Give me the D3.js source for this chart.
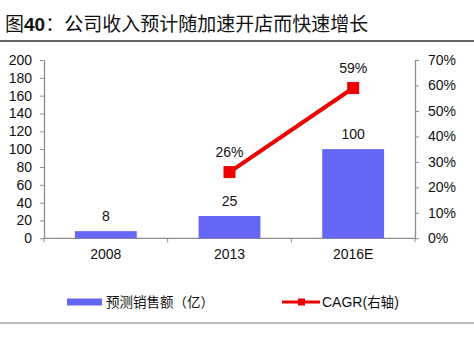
<!DOCTYPE html>
<html><head><meta charset="utf-8">
<script src="https://cdn.jsdelivr.net/npm/d3@7"></script>
<style>body{margin:0;background:#fff;}svg{display:block;}</style>
</head><body>
<script>
const categories = ["2008", "2013", "2016E"];
const salesValues = [8, 25, 100];
const cagrValues = [null, 0.26, 0.59];
const leftTicks = [0, 20, 40, 60, 80, 100, 120, 140, 160, 180, 200];
const rightTicks = [0, 0.1, 0.2, 0.3, 0.4, 0.5, 0.6, 0.7];
const titleText = "公司收入预计随加速开店而快速增长";
const legendBar = "预测销售额（亿）";
const legendLine = "CAGR(右轴)";

const W = 474, H = 357;
const svg = d3.select("body").append("svg").attr("width", W).attr("height", H);
const numFont = "'Liberation Sans', Arial, sans-serif";
const cjkFont = "'Noto Sans CJK SC', sans-serif";
const axisColor = "#8c8c8c";
const barColor = "#6666f6";
const lineColor = "#ee0000";
const fs = 14;

// Title
const t = svg.append("text").attr("x", 5).attr("y", 31).attr("font-size", 19).attr("fill", "#111");
t.append("tspan").attr("font-family", cjkFont).text("图");
t.append("tspan").attr("font-family", numFont).attr("font-weight", "bold").text("40");
t.append("tspan").attr("font-family", cjkFont).text("：");
t.append("tspan").attr("font-family", cjkFont).text(titleText);
svg.append("line").attr("x1", 0).attr("x2", W).attr("y1", 41).attr("y2", 41).attr("stroke", "#333").attr("stroke-width", 1.5);

const pLeft = 44, pRight = 415, pTop = 60, pBottom = 238.3;
const x = d3.scaleBand().domain(categories).range([pLeft, pRight]).paddingInner(0).paddingOuter(0);
const yL = d3.scaleLinear().domain([0, 200]).range([pBottom, pTop]);
const yR = d3.scaleLinear().domain([0, 0.7]).range([pBottom, pTop]);

// Left axis
const gL = svg.append("g").attr("transform", `translate(${pLeft},0)`)
  .call(d3.axisLeft(yL).tickValues(leftTicks).tickSize(4).tickSizeOuter(0).tickPadding(8));
// Right axis
const gR = svg.append("g").attr("transform", `translate(${pRight},0)`)
  .call(d3.axisRight(yR).tickValues(rightTicks).tickFormat(d3.format(".0%")).tickSize(4).tickSizeOuter(0).tickPadding(9));
// Bottom axis
const gB = svg.append("g").attr("transform", `translate(0,${pBottom})`)
  .call(d3.axisBottom(x).tickSize(0).tickPadding(11));
// boundary ticks on x axis
const bounds = categories.map(c => x(c)).concat([x(categories[categories.length-1]) + x.bandwidth()]);
svg.append("g").selectAll("line").data(bounds).join("line")
  .attr("x1", d => d).attr("x2", d => d).attr("y1", pBottom).attr("y2", pBottom + 4)
  .attr("stroke", axisColor);

[gL, gR, gB].forEach(g => {
  g.selectAll("path.domain").attr("stroke", axisColor).attr("stroke-width", 1.3);
  g.selectAll(".tick line").attr("stroke", axisColor);
  g.selectAll(".tick text").attr("font-family", numFont).attr("font-size", fs).attr("fill", "#111");
});
gB.select("path.domain").remove();
svg.append("line").attr("x1", pLeft).attr("x2", pRight).attr("y1", pBottom).attr("y2", pBottom).attr("stroke", axisColor).attr("stroke-width", 1.3);

// Bars
const bw = x.bandwidth() * 0.5;
svg.append("g").selectAll("rect").data(categories).join("rect")
  .attr("x", c => x(c) + (x.bandwidth() - bw) / 2)
  .attr("y", (c, i) => yL(salesValues[i]))
  .attr("width", bw)
  .attr("height", (c, i) => pBottom - yL(salesValues[i]))
  .attr("fill", barColor);
svg.append("g").selectAll("text").data(categories).join("text")
  .attr("x", c => x(c) + x.bandwidth() / 2)
  .attr("y", (c, i) => yL(salesValues[i]) - 10)
  .attr("text-anchor", "middle").attr("font-family", numFont).attr("font-size", fs).attr("fill", "#111")
  .text((c, i) => salesValues[i]);

// Line
const pts = categories.map((c, i) => ({c, v: cagrValues[i]})).filter(d => d.v != null);
const line = d3.line().x(d => x(d.c) + x.bandwidth() / 2).y(d => yR(d.v));
svg.append("path").datum(pts).attr("d", line).attr("fill", "none").attr("stroke", lineColor).attr("stroke-width", 4);
svg.append("g").selectAll("rect").data(pts).join("rect")
  .attr("x", d => x(d.c) + x.bandwidth() / 2 - 6)
  .attr("y", d => yR(d.v) - 6)
  .attr("width", 12).attr("height", 12).attr("fill", lineColor);
svg.append("g").selectAll("text").data(pts).join("text")
  .attr("x", d => x(d.c) + x.bandwidth() / 2)
  .attr("y", d => yR(d.v) - 15)
  .attr("text-anchor", "middle").attr("font-family", numFont).attr("font-size", fs).attr("fill", "#111")
  .text(d => d3.format(".0%")(d.v));

// Legend
const ly = 302;
svg.append("rect").attr("x", 67).attr("y", ly - 3.5).attr("width", 35).attr("height", 7).attr("fill", barColor);
svg.append("text").attr("x", 106).attr("y", ly + 5).attr("font-family", cjkFont).attr("font-size", 13.5).attr("fill", "#111").text(legendBar);
svg.append("line").attr("x1", 282).attr("x2", 320).attr("y1", ly).attr("y2", ly).attr("stroke", lineColor).attr("stroke-width", 3);
svg.append("rect").attr("x", 298).attr("y", ly - 3.5).attr("width", 7).attr("height", 7).attr("fill", lineColor);
const lt = svg.append("text").attr("x", 322).attr("y", ly + 5).attr("font-size", fs).attr("fill", "#111");
lt.append("tspan").attr("font-family", numFont).text("CAGR(");
lt.append("tspan").attr("font-family", cjkFont).attr("font-size", 13.5).text("右轴");
lt.append("tspan").attr("font-family", numFont).text(")");

svg.append("line").attr("x1", 0).attr("x2", W).attr("y1", 323).attr("y2", 323).attr("stroke", "#777").attr("stroke-width", 1.2);
</script>
</body></html>
